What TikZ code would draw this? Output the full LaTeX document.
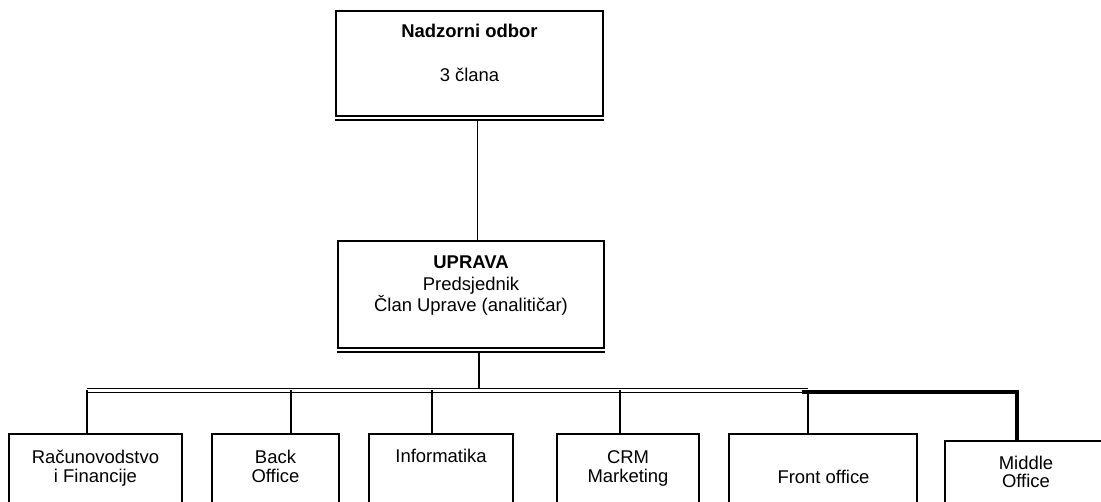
\documentclass[tikz,border=0pt]{standalone}
\usepackage{fontspec}
\setmainfont{Liberation Sans}
\usetikzlibrary{calc,positioning}

\tikzset{
  unit/.style={draw, line width=1pt, rectangle, anchor=north, inner sep=0pt, minimum height=2cm},
  txt/.style={align=center, anchor=base, inner sep=0pt, font=\fontsize{10.5}{10.8}\selectfont},
  conn/.style={line width=1pt},
  bus/.style={double, line width=0.8pt, double distance=1.2pt},
  heavy/.style={line width=2pt},
}

\begin{document}
\begin{tikzpicture}[x=0.02cm, y=-0.02cm]
  \path[use as bounding box] (0,0) rectangle (1101,502);
  \clip (0,0) rectangle (1101,502);

  % nadzorni odbor i uprava
  \node[unit, minimum width=5.34cm, minimum height=2.10cm] (nad) at (469.5,10) {};
  \draw[conn] ($(nad.south west)+(0,3)$) -- ($(nad.south east)+(0,3)$);
  \node[txt] (nad-t1) at (469.5,38) {\bfseries Nadzorni odbor};
  \node[txt] (nad-t2) at (469.5,82) {3 člana};

  \node[unit, minimum width=5.32cm, minimum height=2.14cm] (upr) at (471,240) {};
  \draw[conn] ($(upr.south west)+(0,3)$) -- ($(upr.south east)+(0,3)$);
  \node[txt, font=\fontsize{10.5}{12.5}\selectfont] (upr-t) at (471,312)
    {\textbf{UPRAVA}\\Predsjednik\\Član Uprave (analitičar)};

  \coordinate (n1) at ($(nad.south)+(8,3)$);
  \draw[conn] (n1) -- (n1 |- upr.north);

  % odjeli
  \node[unit, minimum width=3.46cm] (rf) at (95.5,433) {};
  \node[unit, minimum width=2.54cm] (bo) at (275.5,433) {};
  \node[unit, minimum width=2.88cm] (inf) at (441,433) {};
  \node[unit, minimum width=2.84cm] (crm) at (628,433) {};
  \node[unit, minimum width=3.76cm] (fo) at (823,433) {};
  \node[unit, minimum width=3.24cm] (mo) at (1026,440) {};

  \node[txt] (rf-t) at (95.5,482) {Računovodstvo\\i Financije};
  \node[txt] (bo-t) at (275.5,482) {Back\\Office};
  \node[txt] (inf-t) at (441,463) {Informatika};
  \node[txt] (crm-t) at (628,482) {CRM\\Marketing};
  \node[txt] (fo-t) at (823.5,483) {Front office};
  \node[txt] (mo-t) at (1026,488) {Middle\\Office};

  % sabirnica
  \coordinate (busL) at (87,390.5);
  \coordinate (busR) at (808,390.5);
  \coordinate (u1) at ($(upr.south)+(8,3)$);
  \draw[conn] (u1) -- (u1 |- busL);
  \draw[bus] (busL) -- (busR);
  \foreach \b/\n in {87/rf, 291/bo, 432/inf, 620/crm, 808/fo}
    \draw[conn] (\b,390.5) -- (\b,0 |- \n.north);

  \coordinate (busM) at (802,392);
  \coordinate (m1) at (1017,392);
  \draw[heavy] (busM) -- (m1) -- (m1 |- mo.north);
\end{tikzpicture}
\end{document}
